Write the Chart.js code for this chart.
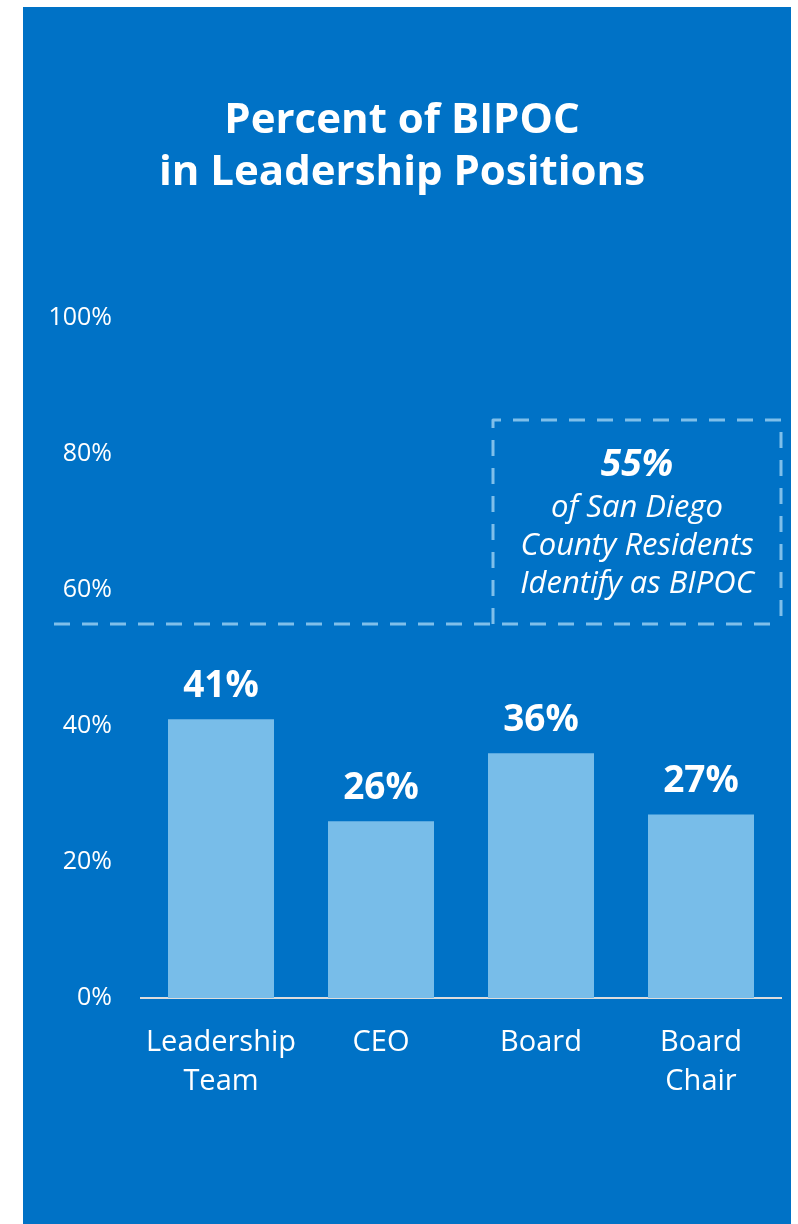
<!DOCTYPE html>
<html>
<head>
<meta charset="utf-8">
<title>Percent of BIPOC in Leadership Positions</title>
<script src="https://cdn.jsdelivr.net/npm/chart.js@4.4.1/dist/chart.umd.min.js"></script>
<style>
    html, body {
        margin: 0;
        padding: 0;
        background: #ffffff;
    }
    .panel {
        position: absolute;
        left: 23px;
        top: 7px;
        width: 768px;
        height: 1217px;
        background: #0072c6;
    }
    canvas {
        display: block;
    }
</style>
</head>
<body>
<div class="panel">
    <canvas id="bipoc-chart" width="768" height="1217"></canvas>
</div>
<script>
// Chart data
const categories = [['Leadership', 'Team'], ['CEO'], ['Board'], ['Board', 'Chair']];
const bipocShare = [41, 26, 36, 27];
const yTickValues = [0, 20, 40, 60, 80, 100];
const countyShare = 55;
const countyNote = ['of San Diego', 'County Residents', 'Identify as BIPOC'];

const FONT = "'Open Sans', 'Noto Sans', sans-serif";
const WHITE = '#ffffff';
const BAR_COLOR = '#78bde9';
const DASH_COLOR = '#7fbfea';

/**
 * Percent labels above each bar
 */
const barValueLabels = {
    id: 'barValueLabels',
    afterDatasetsDraw(chart) {
        const ctx = chart.ctx;
        const meta = chart.getDatasetMeta(0);
        ctx.save();
        ctx.fillStyle = WHITE;
        ctx.font = `bold 37px ${FONT}`;
        ctx.textAlign = 'center';
        ctx.textBaseline = 'middle';
        meta.data.forEach((bar, i) => {
            ctx.fillText(bipocShare[i] + '%', bar.x, bar.y - 33);
        });
        ctx.restore();
    }
};

/**
 * Dashed county benchmark line with its callout box
 */
const countyBenchmark = {
    id: 'countyBenchmark',
    afterDatasetsDraw(chart) {
        const ctx = chart.ctx;
        const area = chart.chartArea;
        const y = chart.scales.y.getPixelForValue(countyShare);
        const boxLeft = 470;
        const boxTop = y - 204;
        const boxRight = area.right;

        ctx.save();
        ctx.strokeStyle = DASH_COLOR;
        ctx.lineWidth = 3;
        ctx.setLineDash([16, 12]);
        ctx.lineJoin = 'round';
        ctx.lineCap = 'butt';

        // benchmark line
        ctx.beginPath();
        ctx.moveTo(31, y);
        ctx.lineTo(boxRight, y);
        ctx.stroke();

        // callout box (bottom edge is the line itself)
        ctx.beginPath();
        ctx.moveTo(boxLeft, y);
        ctx.lineTo(boxLeft, boxTop);
        ctx.lineTo(boxRight, boxTop);
        ctx.lineTo(boxRight, y);
        ctx.stroke();

        // callout text
        const cx = (boxLeft + boxRight) / 2;
        ctx.setLineDash([]);
        ctx.fillStyle = WHITE;
        ctx.textAlign = 'center';
        ctx.textBaseline = 'middle';
        ctx.font = `italic bold 37px ${FONT}`;
        ctx.fillText(countyShare + '%', cx, boxTop + 45);
        ctx.font = `italic 31px ${FONT}`;
        countyNote.forEach((line, i) => {
            ctx.fillText(line, cx, boxTop + 88 + i * 38);
        });
        ctx.restore();
    }
};

const ctx = document.getElementById('bipoc-chart').getContext('2d');

new Chart(ctx, {
    type: 'bar',
    data: {
        labels: categories,
        datasets: [{
            data: bipocShare,
            backgroundColor: BAR_COLOR,
            borderWidth: 0,
            barPercentage: 0.6625,
            categoryPercentage: 1
        }]
    },
    options: {
        responsive: false,
        animation: false,
        events: [],
        layout: {
            padding: { left: 0, right: 10, top: 0, bottom: 0 }
        },
        scales: {
            x: {
                afterFit(scale) {
                    scale.height = 226;
                },
                grid: {
                    display: false,
                    drawTicks: false
                },
                border: {
                    display: true,
                    color: '#dcdcdc',
                    width: 2
                },
                ticks: {
                    color: WHITE,
                    padding: 25,
                    font: {
                        family: FONT,
                        size: 29,
                        lineHeight: 1.35
                    }
                }
            },
            y: {
                min: 0,
                max: 100,
                afterFit(scale) {
                    scale.width = 118;
                },
                afterBuildTicks(scale) {
                    scale.ticks = yTickValues.map(v => ({ value: v }));
                },
                grid: {
                    display: false,
                    drawTicks: false
                },
                border: {
                    display: false
                },
                ticks: {
                    color: WHITE,
                    padding: 29,
                    font: {
                        family: FONT,
                        size: 25
                    },
                    callback: v => v + '%'
                }
            }
        },
        plugins: {
            legend: { display: false },
            tooltip: { enabled: false },
            title: {
                display: true,
                text: ['Percent of BIPOC', 'in Leadership Positions'],
                color: WHITE,
                font: {
                    family: FONT,
                    size: 42,
                    weight: 'bold',
                    lineHeight: '52px'
                },
                padding: { top: 88, bottom: 119 }
            }
        }
    },
    plugins: [barValueLabels, countyBenchmark]
});
</script>
</body>
</html>
